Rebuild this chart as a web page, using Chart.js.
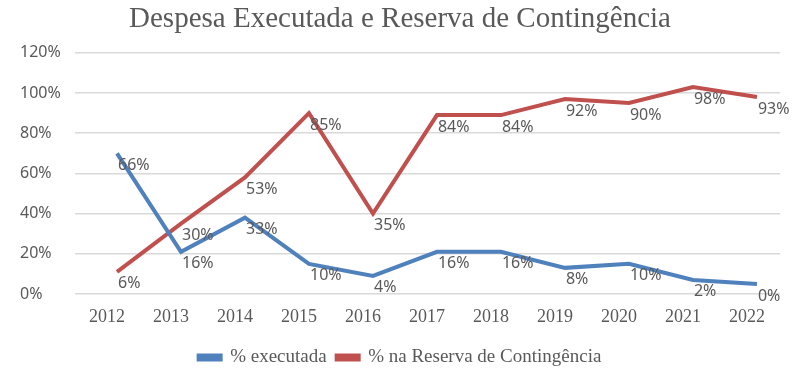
<!DOCTYPE html>
<html>
<head>
<meta charset="utf-8">
<script src="https://cdn.jsdelivr.net/npm/chart.js@4.4.1/dist/chart.umd.min.js"></script>
<style>
  html, body { margin: 0; padding: 0; background: #fff; }
  #wrap { width: 800px; height: 384px; }
</style>
</head>
<body>
<div id="wrap"><canvas id="despesaChart"></canvas></div>
<script>
// data
var years = [2012, 2013, 2014, 2015, 2016, 2017, 2018, 2019, 2020, 2021, 2022];
var executada = [70, 21, 38, 15, 9, 21, 21, 13, 15, 7, 5];
var reserva   = [11, 35, 58, 90, 40, 89, 89, 97, 95, 103, 98];
// text shown next to the points
var executadaLabels = ['66%', '16%', '33%', '10%', '4%', '16%', '16%', '8%', '10%', '2%', '0%'];
var reservaLabels   = ['6%', '30%', '53%', '85%', '35%', '84%', '84%', '92%', '90%', '98%', '93%'];
var yTicks = [0, 20, 40, 60, 80, 100, 120];

var GREY = '#595959';
var BLUE = '#4F81BD';
var RED  = '#C0504D';

function toPoints(vals) {
  return vals.map(function(v, i) { return { x: years[i], y: v }; });
}

// value labels drawn to the right/below of every point
var pointLabels = {
  id: 'pointLabels',
  afterDatasetsDraw: function(chart) {
    var ctx = chart.ctx;
    ctx.save();
    ctx.font = '16px "Noto Sans"';
    ctx.fillStyle = GREY;
    ctx.textAlign = 'left';
    ctx.textBaseline = 'middle';
    chart.data.datasets.forEach(function(ds, di) {
      var meta = chart.getDatasetMeta(di);
      meta.data.forEach(function(pt, i) {
        ctx.fillText(ds.valueLabels[i], pt.x + 1, pt.y + 12);
      });
    });
    ctx.restore();
  }
};

new Chart(document.getElementById('despesaChart'), {
  type: 'line',
  data: {
    datasets: [
      {
        label: '% executada',
        data: toPoints(executada),
        valueLabels: executadaLabels,
        borderColor: BLUE,
        backgroundColor: BLUE,
        borderWidth: 4,
        pointRadius: 0,
        tension: 0
      },
      {
        label: '% na Reserva de Contingência',
        data: toPoints(reserva),
        valueLabels: reservaLabels,
        borderColor: RED,
        backgroundColor: RED,
        borderWidth: 4,
        pointRadius: 0,
        tension: 0
      }
    ]
  },
  options: {
    responsive: true,
    maintainAspectRatio: false,
    animation: false,
    layout: { padding: { left: 20, right: 20, top: 0, bottom: 7 } },
    plugins: {
      title: {
        display: true,
        text: 'Despesa Executada e Reserva de Contingência',
        color: GREY,
        font: { family: '"Liberation Serif"', size: 29, weight: 'normal' },
        padding: { top: 2, bottom: 16 }
      },
      legend: {
        position: 'bottom',
        labels: {
          color: GREY,
          font: { family: '"Liberation Serif"', size: 19 },
          boxWidth: 22,
          boxHeight: 4,
          padding: 10
        }
      },
      tooltip: { enabled: false }
    },
    scales: {
      x: {
        type: 'linear',
        min: 2011.344,
        max: 2022.36,
        grid: { display: false, drawTicks: false },
        border: { display: false },
        afterFit: function(scale) { scale.height = 44; },
        ticks: {
          stepSize: 1,
          includeBounds: false,
          labelOffset: -10,
          padding: 12,
          color: GREY,
          font: { family: '"Liberation Serif"', size: 18 },
          callback: function(v) { return years.indexOf(v) >= 0 ? String(v) : ''; }
        }
      },
      y: {
        min: 0,
        max: 120,
        afterFit: function(scale) { scale.width = 55; },
        grid: { color: '#D9D9D9', lineWidth: 1.5, drawTicks: false },
        border: { display: false },
        ticks: {
          stepSize: 20,
          crossAlign: 'far',
          color: GREY,
          font: { family: '"Noto Sans"', size: 16 },
          callback: function(v) { return yTicks.indexOf(v) >= 0 ? v + '%' : ''; }
        }
      }
    }
  },
  plugins: [pointLabels]
});
</script>
</body>
</html>
